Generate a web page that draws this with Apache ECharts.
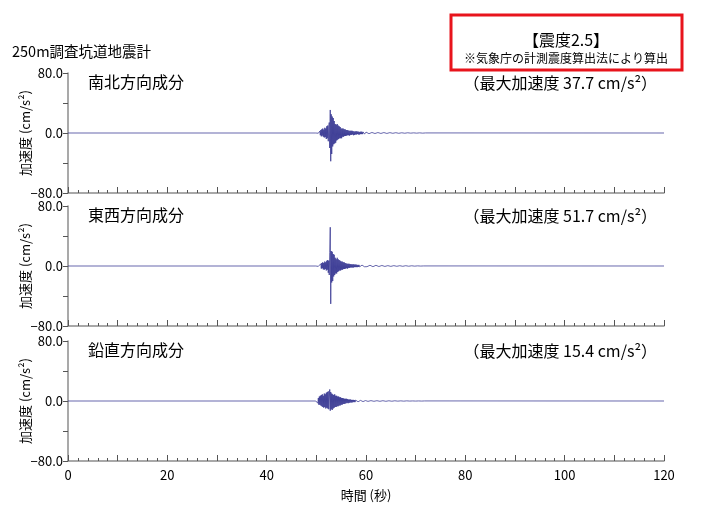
<!DOCTYPE html>
<html><head><meta charset="utf-8">
<script src="https://cdn.jsdelivr.net/npm/echarts@6/dist/echarts.min.js"></script>
<style>html,body{margin:0;padding:0;background:#fff}#c{width:720px;height:505px}</style>
</head><body><div id="c"></div>
<script>
const FONT = '"Noto Sans CJK JP", "Noto Sans", sans-serif';
const panelNames = ['南北方向成分', '東西方向成分', '鉛直方向成分'];
const peakValues = ['37.7', '51.7', '15.4'];
const xTickLabels = [0, 20, 40, 60, 80, 100, 120];
const yTickLabels = [-80, 0, 80];
const denseStart = 50.0, denseStep = 0.1;
const tailStart = 60.2, tailStep = 0.2;

const nsDense = [0,0.3,-0.4,0.5,-0.3,0.6,-0.8,2.5,-3,4,
 -4.5,5,-3.5,6,-5,4.5,-6,7,-5.5,6,
 -8,9,-7,10,-11,8,14,-20,30.7,-37.7,
 25,-28,22,-18,20,-15,16,-14,12,-13,
 11,-10,12,-9,10,-8,9,-7,8,-7,
 6,-7,6,-5,6,-5,5,-4,5,-4,
 4,-3.5,4,-3,3.5,-3,3,-3.5,3,-2.5,
 3,-2.5,3,-2,2.5,-3,2,-2.5,2,-2,
 2.5,-2,2,-1.5,2,-2,1.5,-2,1.5,-1.5,
 2,-1.5,1.5,-1.5,1.5,-1,1.5,-1.5,1,-1,
 1.2];
const nsTail = [-1,0.8,-0.9,1,-0.8,0.7,-0.9,0.8,-0.7,0.8,
 -0.8,0.6,-0.7,0.8,-0.6,0.7,-0.8,0.6,-0.5,0.7,
 -0.6,0.5,-0.6,0.5,-0.5,0.6,-0.4,0.5,-0.5,0.4,
 -0.4,0.5,-0.4,0.4,-0.4,0.3,-0.4,0.4,-0.3,0.4,
 -0.3,0.3,-0.3,0.3,-0.2,0.3,-0.3,0.2,-0.2,0.3,
 -0.2,0.2,-0.2,0.2,-0.1,0.2,-0.2,0.1,-0.1,0.1];

const ewDense = [0,0.3,-0.3,0.4,-0.5,0.5,-0.6,0.8,-2,3,
 -3.5,4,-3,5,-4.5,4,-5,6,-4,5,
 -6,7,-5,8,-9,7,-12,18,51.7,-50.5,
 20,-22,19,-20,16,-14,15,-12,11,-10,
 9,-10,11,-8,9,-7,8,-6,7,-6,
 6,-5,6,-5,5,-4,5,-4,4,-3.5,
 3.5,-3,3,-3.5,3,-2.5,3,-2.5,2.5,-2,
 2.5,-2,2,-2,2.5,-2,2,-1.5,2,-1.5,
 2,-1.5,1.5,-1.5,1.5,-1.2,1.5,-1.2,1.2,-1.2,
 1.2,-1,1.2,-1,1,-1,1.2,-1,1,-0.8,
 1];
const ewTail = [-0.9,0.8,-0.9,1,-0.8,0.9,-0.9,0.7,-0.8,0.9,
 -0.8,0.7,-0.7,0.8,-0.6,0.7,-0.8,0.6,-0.6,0.7,
 -0.6,0.5,-0.6,0.5,-0.5,0.6,-0.4,0.5,-0.5,0.4,
 -0.4,0.5,-0.4,0.4,-0.3,0.4,-0.4,0.3,-0.3,0.4,
 -0.3,0.3,-0.3,0.3,-0.2,0.3,-0.2,0.2,-0.2,0.2,
 -0.2,0.2,-0.2,0.1,-0.1,0.2,-0.1,0.1,-0.1,0.1];

const udDense = [0.5,-1,2,-3,4,-5,6,-5,7,-6,
 8,-7,9,-8,7,-9,10,-8,9,-10,
 11,-9,12,-10,13,-11,-12,15.4,-13,12,
 -11,10,-12,9,-10,8,-9,9,-8,7,
 -8,7,-7,6,-7,6,-6,5,-6,5,
 -5,4,-5,4,-4,3.5,-4,3,-3.5,3,
 -3,3,-2.5,2.5,-3,2,-2.5,2,-2,2,
 -2,1.5,-2,1.5,-1.5,1.5,-1.5,1.2,-1.5,1.2,
 -1.2,1,-1.2,1,-1,1,-1,0.8,-1,0.8,
 -0.8,0.8,-0.8,0.7,-0.8,0.6,-0.7,0.6,-0.6,0.6,
 -0.6];
const udTail = [0.6,-0.5,0.6,-0.5,0.5,-0.5,0.6,-0.4,0.5,-0.5,
 0.4,-0.5,0.4,-0.4,0.5,-0.4,0.4,-0.3,0.4,-0.4,
 0.3,-0.4,0.3,-0.3,0.4,-0.3,0.3,-0.3,0.3,-0.2,
 0.3,-0.2,0.3,-0.2,0.2,-0.3,0.2,-0.2,0.2,-0.2,
 0.2,-0.2,0.2,-0.1,0.2,-0.2,0.1,-0.2,0.1,-0.1,
 0.1,-0.1,0.1,-0.1,0.1,-0.1,0.1,-0.1,0.1,-0.1];

function buildSeries(dense, tail) {
  const pts = [[0, 0], [denseStart - 0.1, 0]];
  dense.forEach((v, i) => pts.push([+(denseStart + i * denseStep).toFixed(2), v]));
  tail.forEach((v, i) => pts.push([+(tailStart + i * tailStep).toFixed(2), v]));
  pts.push([120, 0]);
  return pts;
}
const seriesData = [buildSeries(nsDense, nsTail), buildSeries(ewDense, ewTail), buildSeries(udDense, udTail)];

const gridTops = [73, 206, 341];
const gridH = 120;
const axisGray = '#8c8c8c';
const lineColor = '#26268a';

const grids = [], xAxes = [], yAxes = [], series = [], graphics = [];
gridTops.forEach((top, i) => {
  grids.push({ left: 68, right: 56, top: top, height: gridH });
  xAxes.push({
    type: 'value', gridIndex: i, min: 0, max: 120, interval: 10,
    axisLine: { show: true, onZero: false, lineStyle: { color: axisGray, width: 1.5 } },
    axisTick: { show: true, inside: true, length: 6, lineStyle: { color: '#555' } },
    minorTick: { show: true, splitNumber: 5, length: 3, lineStyle: { color: '#555' } },
    splitLine: { show: false },
    axisLabel: { show: i === 2, color: '#000', fontSize: 13, fontFamily: FONT, margin: 8,
      formatter: v => (xTickLabels.indexOf(v) >= 0 ? String(v) : '') },
    name: i === 2 ? '時間 (秒)' : '', nameLocation: 'middle', nameGap: 28,
    nameMoveOverlap: false,
    nameTextStyle: { color: '#000', fontSize: 13, fontFamily: FONT }
  });
  yAxes.push({
    type: 'value', gridIndex: i, min: -80, max: 80, interval: 40,
    axisLine: { show: true, onZero: false, lineStyle: { color: axisGray, width: 1.5 } },
    axisTick: { show: true, length: 5, lineStyle: { color: '#555' } },
    splitLine: { show: false },
    axisLabel: { color: '#000', fontSize: 13, fontFamily: FONT, margin: 5,
      formatter: v => (yTickLabels.indexOf(v) >= 0 ? (v < 0 ? '\u2212' : '') + Math.abs(v).toFixed(1) : '') },
    name: '加速度 (cm/s²)', nameLocation: 'middle', nameRotate: 90, nameGap: 36,
    nameMoveOverlap: false,
    nameTextStyle: { color: '#000', fontSize: 13, fontFamily: FONT }
  });
  series.push({
    type: 'line', xAxisIndex: i, yAxisIndex: i, data: seriesData[i],
    showSymbol: false, symbol: 'none', sampling: false, animation: false,
    lineStyle: { color: lineColor, width: 0.7 }
  });
  graphics.push({ type: 'text', left: 88, top: top + 1,
    style: { text: panelNames[i], font: '16px ' + FONT, fill: '#000' } });
  graphics.push({ type: 'text', right: 63, top: top + 2,
    style: { text: '（最大加速度 ' + peakValues[i] + ' cm/s²）', font: '16px ' + FONT, fill: '#000' } });
});

graphics.push({ type: 'text', left: 12, top: 44,
  style: { text: '250m調査坑道地震計', font: '14.5px ' + FONT, fill: '#000' } });
graphics.push({ type: 'rect', shape: { x: 451, y: 15, width: 231, height: 55 },
  style: { fill: 'none', stroke: '#e8141c', lineWidth: 3 } });
graphics.push({ type: 'text', x: 566, y: 40,
  style: { text: '【震度2.5】', font: '16px ' + FONT, fill: '#000', textAlign: 'center', textVerticalAlign: 'middle' } });
graphics.push({ type: 'text', x: 566, y: 58,
  style: { text: '※気象庁の計測震度算出法により算出', font: '12px ' + FONT, fill: '#000', textAlign: 'center', textVerticalAlign: 'middle' } });

const chart = echarts.init(document.getElementById('c'), null, { renderer: 'canvas' });
chart.setOption({
  backgroundColor: '#fff', animation: false,
  grid: grids, xAxis: xAxes, yAxis: yAxes, series: series, graphic: graphics
});
</script></body></html>
